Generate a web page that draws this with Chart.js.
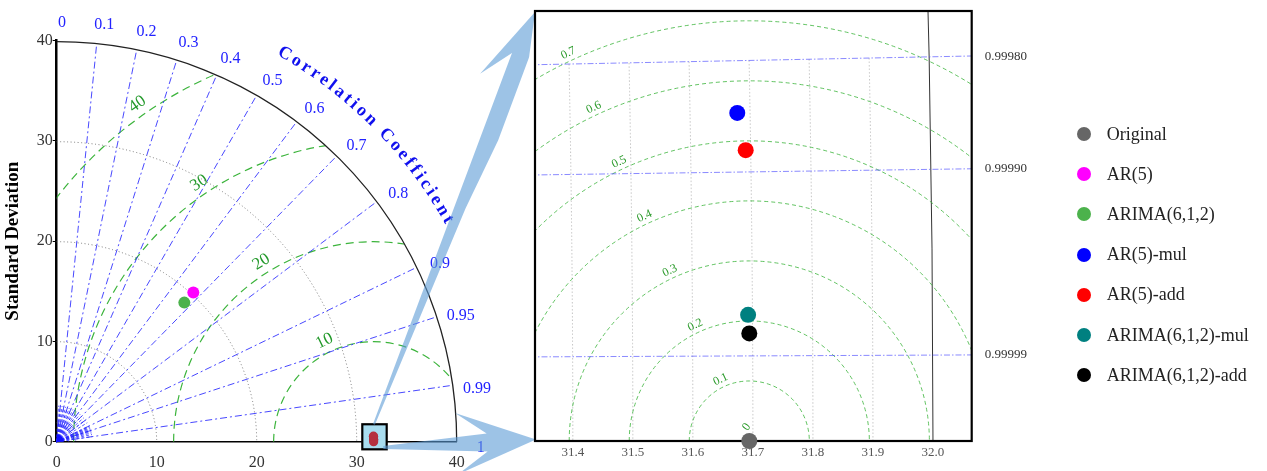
<!DOCTYPE html>
<html lang="en">
<head>
<meta charset="UTF-8">
<title>Taylor diagram</title>
<script src="https://cdn.jsdelivr.net/npm/chart.js@4.4.1/dist/chart.umd.min.js"></script>
<style>
    body { margin: 0; background: #fff; }
    #wrap { position: relative; width: 1267px; height: 471px; overflow: hidden; }
    #wrap canvas { position: absolute; left: 0; top: 0; }
    #legend { position: absolute; left: 1077px; top: 114px; font: 18px 'Liberation Serif', 'Times New Roman', serif; color: #222; }
    #legend .row { height: 40.2px; display: flex; align-items: center; white-space: nowrap; }
    #legend .dot { width: 14px; height: 14px; border-radius: 50%; margin-right: 15.7px; flex: none; }
</style>
</head>
<body>
<div id="wrap">
    <canvas id="left" width="1267" height="471"></canvas>
    <canvas id="right" width="1267" height="471"></canvas>
    <div id="legend"></div>
</div>
<script>
    // values
    const models = ['Original', 'AR(5)', 'ARIMA(6,1,2)', 'AR(5)-mul', 'AR(5)-add', 'ARIMA(6,1,2)-mul', 'ARIMA(6,1,2)-add'];
    const stdDev = [31.694, 20.21, 18.85, 31.6787, 31.6917, 31.6927, 31.6945];
    const corrCoef = [1, 0.676, 0.677, 0.999851, 0.999883, 0.999978, 0.999984];
    const colors = ['#666666', '#ff00ff', '#4cb24c', '#0000ff', '#ff0000', '#008080', '#000000'];

    const stdTicksLeft = [0, 10, 20, 30, 40];
    const stdArcsLeft = [10, 20, 30];
    const corrLinesLeft = [0.1, 0.2, 0.3, 0.4, 0.5, 0.6, 0.7, 0.8, 0.9, 0.95, 0.99];
    const corrLabelsLeft = [0, 0.1, 0.2, 0.3, 0.4, 0.5, 0.6, 0.7, 0.8, 0.9, 0.95, 0.99, 1];
    const rmsLeft = [10, 20, 30, 40];

    const stdTicksRight = [31.4, 31.5, 31.6, 31.7, 31.8, 31.9, 32.0];
    const corrLinesRight = [0.9998, 0.9999, 0.99999];
    const rmsRight = [0.1, 0.2, 0.3, 0.4, 0.5, 0.6, 0.7];

    const FONT = "'Liberation Serif', 'Times New Roman', serif";
    const D2R = Math.PI / 180;
    const zoomed = [0, 3, 4, 5, 6];   // points that sit inside the small box

    function pt(i) {
        const s = stdDev[i], r = corrCoef[i];
        return { x: s * r, y: s * Math.sqrt(Math.max(0, 1 - r * r)) };
    }

    function rotText(ctx, txt, x, y, rot) {
        ctx.save(); ctx.translate(x, y); ctx.rotate(rot); ctx.fillText(txt, 0, 0); ctx.restore();
    }

    const leftDeco = {
        id: 'leftDeco',
        beforeDatasetsDraw(chart) {
            const ctx = chart.ctx, xs = chart.scales.x, ys = chart.scales.y;
            const ox = xs.getPixelForValue(0), oy = ys.getPixelForValue(0);
            const k = xs.getPixelForValue(1) - ox;
            const P = (s, a) => [ox + s * Math.cos(a) * k, oy - s * Math.sin(a) * k];
            const smax = stdTicksLeft[stdTicksLeft.length - 1];
            ctx.save();

            // std dev arcs
            ctx.strokeStyle = '#777'; ctx.lineWidth = 1; ctx.setLineDash([1, 2.5]);
            stdArcsLeft.forEach(s => { ctx.beginPath(); ctx.arc(ox, oy, s * k, -Math.PI / 2, 0); ctx.stroke(); });

            // rms circles round the original, clipped to the quarter disc
            const c0 = pt(0);
            const cx = xs.getPixelForValue(c0.x);
            ctx.save();
            ctx.beginPath(); ctx.moveTo(ox, oy); ctx.arc(ox, oy, smax * k, -Math.PI / 2, 0); ctx.closePath(); ctx.clip();
            ctx.strokeStyle = '#3cb43c'; ctx.lineWidth = 1.2; ctx.setLineDash([8, 5]);
            rmsLeft.forEach(r => { ctx.beginPath(); ctx.arc(cx, oy, r * k, Math.PI, 2 * Math.PI); ctx.stroke(); });
            ctx.restore();

            // correlation rays
            ctx.strokeStyle = 'rgba(40,40,255,0.85)'; ctx.lineWidth = 1; ctx.setLineDash([7, 3, 2, 3]);
            corrLinesLeft.forEach(r => {
                const a = Math.acos(r), e = P(smax, a);
                ctx.beginPath(); ctx.moveTo(ox, oy); ctx.lineTo(e[0], e[1]); ctx.stroke();
            });
            // short fan near the origin
            ctx.lineWidth = 0.9; ctx.setLineDash([3, 2]);
            for (let r = 0.05; r < 1; r += 0.05) {
                const e = P(3.6, Math.acos(r));
                ctx.beginPath(); ctx.moveTo(ox, oy); ctx.lineTo(e[0], e[1]); ctx.stroke();
            }
            for (let r = 0.91; r < 0.995; r += 0.01) {
                const e = P(3.6, Math.acos(r));
                ctx.beginPath(); ctx.moveTo(ox, oy); ctx.lineTo(e[0], e[1]); ctx.stroke();
            }
            ctx.setLineDash([1, 1.5]);
            [1.2, 1.9].forEach(s => { ctx.beginPath(); ctx.arc(ox, oy, s * k, -Math.PI / 2, 0); ctx.stroke(); });
            ctx.setLineDash([]);
            ctx.fillStyle = '#1010ff';
            ctx.beginPath(); ctx.moveTo(ox, oy); ctx.arc(ox, oy, 0.7 * k, -Math.PI / 2, 0); ctx.closePath(); ctx.fill();

            // outer arc
            ctx.strokeStyle = '#222'; ctx.lineWidth = 1.3;
            ctx.beginPath(); ctx.arc(ox, oy, smax * k, -Math.PI / 2, 0); ctx.stroke();

            // zoom box
            const bx0 = xs.getPixelForValue(30.56), bx1 = xs.getPixelForValue(33.0);
            const by0 = ys.getPixelForValue(1.74), by1 = ys.getPixelForValue(-0.76);
            ctx.fillStyle = '#a8dcef'; ctx.fillRect(bx0, by0, bx1 - bx0, by1 - by0);
            ctx.strokeStyle = '#000'; ctx.lineWidth = 2.2; ctx.strokeRect(bx0, by0, bx1 - bx0, by1 - by0);

            // correlation labels
            ctx.fillStyle = '#2222ff'; ctx.font = '16px ' + FONT;
            ctx.textAlign = 'center'; ctx.textBaseline = 'middle';
            corrLabelsLeft.forEach(r => {
                const e = P(42.2, Math.acos(r) - 0.008);
                ctx.fillText(String(r), e[0] + 2, e[1] + 3);
            });

            // curved title
            const title = 'Correlation Coefficient';
            ctx.font = 'bold 18px ' + FONT; ctx.fillStyle = '#1010ee';
            const chars = [...title];
            const ws = chars.map(c => ctx.measureText(c).width);
            const R = 45 * k, a0 = 60.4 * D2R, a1 = 29.2 * D2R;
            const gap = (R * (a0 - a1) - ws.reduce((a, b) => a + b, 0)) / (chars.length - 1);
            let run = 0;
            chars.forEach((c, i) => {
                const a = a0 - (run + ws[i] / 2) / R;
                rotText(ctx, c, ox + R * Math.cos(a), oy - R * Math.sin(a), Math.PI / 2 - a);
                run += ws[i] + gap;
            });

            // rms labels
            ctx.font = '17px ' + FONT; ctx.fillStyle = '#22992a';
            const labA = [116, 122, 124, 125];
            rmsLeft.forEach((r, i) => {
                const a = labA[i] * D2R, rr = (r + 1.2) * k;
                rotText(ctx, String(r), cx + rr * Math.cos(a), oy - rr * Math.sin(a), Math.PI / 2 - a);
            });
            ctx.restore();
        }
    };

    const leftChart = new Chart(document.getElementById('left'), {
        type: 'scatter',
        data: {
            datasets: models.map((m, i) => ({
                label: m,
                data: [pt(i)],
                backgroundColor: zoomed.includes(i) ? '#b5303f' : colors[i],
                borderWidth: 0,
                pointRadius: zoomed.includes(i) ? 4.6 : 6,
                clip: false
            }))
        },
        options: {
            responsive: false, animation: false, devicePixelRatio: 1,
            layout: { padding: { top: 40.7, right: 810.3, left: 0, bottom: 0 } },
            plugins: { legend: { display: false }, tooltip: { enabled: false } },
            scales: {
                x: {
                    type: 'linear', min: 0, max: 40,
                    afterBuildTicks: s => { s.ticks = stdTicksLeft.map(v => ({ value: v })); },
                    afterFit: s => { s.height = 29.3; },
                    grid: { display: false, drawTicks: false },
                    border: { display: true, color: '#000', width: 1.5 },
                    ticks: { font: { family: FONT, size: 16 }, color: '#333', padding: 11 }
                },
                y: {
                    type: 'linear', min: 0, max: 40,
                    afterBuildTicks: s => { s.ticks = stdTicksLeft.map(v => ({ value: v })); },
                    afterFit: s => { s.width = 56.7; },
                    grid: { display: true, drawOnChartArea: false, drawTicks: true, tickLength: 4, color: '#000' },
                    border: { display: true, color: '#000', width: 2.5 },
                    ticks: { font: { family: FONT, size: 16 }, color: '#333', padding: 0 },
                    title: { display: true, text: 'Standard Deviation', color: '#000', font: { family: FONT, size: 19, weight: 'bold' }, padding: { top: 2, bottom: 2 } }
                }
            }
        },
        plugins: [leftDeco]
    });

    function arrow(ctx, T, P, shape) {
        const dx = P[0] - T[0], dy = P[1] - T[1], L = Math.hypot(dx, dy);
        const ux = dx / L, uy = dy / L, nx = -uy, ny = ux;
        ctx.beginPath();
        shape.forEach((p, i) => {
            const x = T[0] + ux * p[0] * L + nx * p[1], y = T[1] + uy * p[0] * L + ny * p[1];
            if (i) ctx.lineTo(x, y); else ctx.moveTo(x, y);
        });
        ctx.closePath(); ctx.fill();
    }

    const rightDeco = {
        id: 'rightDeco',
        beforeDatasetsDraw(chart) {
            const ctx = chart.ctx, xs = chart.scales.x, ys = chart.scales.y, ca = chart.chartArea;
            const ox = xs.getPixelForValue(0), oy = ys.getPixelForValue(0);
            const k = xs.getPixelForValue(1) - ox;
            ctx.save();

            // pointers from the small box
            const lx = leftChart.scales.x, ly = leftChart.scales.y;
            ctx.fillStyle = 'rgba(91,155,213,0.6)';
            arrow(ctx, [lx.getPixelForValue(31.68), ly.getPixelForValue(1.74)], [ca.left, ca.top + 1],
                [[0, -0.5], [0.895, -6.5], [0.825, -28.6], [1, 0], [0.9, 11], [0.7, 12.5], [0.53, 7], [0, 1.5]]);
            arrow(ctx, [lx.getPixelForValue(32.66), ly.getPixelForValue(-0.58)], [ca.left + 1, ca.bottom - 1.5],
                [[0, -1.5], [0.68, -8.6], [0.48, -30.6], [1, 0], [0.48, 30.6], [0.68, 9.5], [0, 1.5]]);

            ctx.save();
            ctx.beginPath(); ctx.rect(ca.left, ca.top, ca.right - ca.left, ca.bottom - ca.top); ctx.clip();
            ctx.fillStyle = '#fff'; ctx.fillRect(ca.left, ca.top, ca.right - ca.left, ca.bottom - ca.top);

            // std dev arcs (near vertical)
            const aTop = Math.acos(corrLinesRight[0]);
            ctx.strokeStyle = '#c4c4c4'; ctx.lineWidth = 1; ctx.setLineDash([1.5, 2]);
            stdTicksRight.slice(0, -1).forEach(s => { ctx.beginPath(); ctx.arc(ox, oy, s * k, -aTop, 0); ctx.stroke(); });
            ctx.setLineDash([]); ctx.strokeStyle = '#333'; ctx.lineWidth = 1;
            const sLast = stdTicksRight[stdTicksRight.length - 1];
            ctx.beginPath(); ctx.arc(ox, oy, sLast * k, -0.04, 0); ctx.stroke();

            // rms circles
            const c0 = pt(0), cx = xs.getPixelForValue(c0.x);
            ctx.strokeStyle = 'rgba(70,185,70,0.85)'; ctx.lineWidth = 1; ctx.setLineDash([4, 3]);
            rmsRight.forEach(r => { ctx.beginPath(); ctx.arc(cx, oy, r * k, Math.PI, 2 * Math.PI); ctx.stroke(); });

            // correlation rays
            ctx.strokeStyle = 'rgba(60,60,255,0.6)'; ctx.setLineDash([6, 2, 1.5, 2]);
            corrLinesRight.forEach(r => {
                const a = Math.acos(r), R = 32.3 * k;
                ctx.beginPath(); ctx.moveTo(ca.left - 5, oy - (ca.left - 5 - ox) * Math.tan(a));
                ctx.lineTo(ox + R * Math.cos(a), oy - R * Math.sin(a)); ctx.stroke();
            });

            // rms labels
            ctx.setLineDash([]);
            ctx.fillStyle = '#2a9a2a'; ctx.font = '12px ' + FONT; ctx.textAlign = 'center'; ctx.textBaseline = 'middle';
            rotText(ctx, '0', cx - 2.6, oy - 14, -55 * D2R);
            rmsRight.forEach(r => {
                const a = 115 * D2R, rr = (r + 0.013) * k;
                rotText(ctx, String(r), cx + rr * Math.cos(a), oy - rr * Math.sin(a), Math.PI / 2 - a);
            });
            ctx.restore();

            // frame and correlation labels
            ctx.strokeStyle = '#000'; ctx.lineWidth = 2.2;
            ctx.strokeRect(ca.left, ca.top, ca.right - ca.left, ca.bottom - ca.top);
            ctx.fillStyle = '#333'; ctx.font = '13px ' + FONT; ctx.textAlign = 'left'; ctx.textBaseline = 'middle';
            corrLinesRight.forEach(r => {
                const y = ys.getPixelForValue(xs.max * Math.tan(Math.acos(r)));
                ctx.fillText(r.toFixed(5), ca.right + 13, y);
            });
            ctx.restore();
        }
    };

    new Chart(document.getElementById('right'), {
        type: 'scatter',
        data: {
            datasets: models.map((m, i) => ({
                label: m, data: [pt(i)], backgroundColor: colors[i],
                borderWidth: 0, pointRadius: 8, clip: false
            }))
        },
        options: {
            responsive: false, animation: false, devicePixelRatio: 1,
            layout: { padding: { top: 11, right: 295.3, left: 535, bottom: 0 } },
            plugins: { legend: { display: false }, tooltip: { enabled: false } },
            scales: {
                x: {
                    type: 'linear', min: 31.337, max: 32.0645,
                    afterBuildTicks: s => { s.ticks = stdTicksRight.map(v => ({ value: v })); },
                    afterFit: s => { s.height = 30; },
                    grid: { display: false, drawTicks: false }, border: { display: false },
                    ticks: { font: { family: FONT, size: 13 }, color: '#555', padding: 4, callback: v => v.toFixed(1) }
                },
                y: { type: 'linear', min: 0, max: 0.7167, display: false }
            }
        },
        plugins: [rightDeco]
    });

    const legend = document.getElementById('legend');
    models.forEach((m, i) => {
        const row = document.createElement('div');
        row.className = 'row';
        row.innerHTML = '<span class="dot" style="background:' + colors[i] + '"></span><span>' + m + '</span>';
        legend.appendChild(row);
    });
</script>
</body>
</html>
